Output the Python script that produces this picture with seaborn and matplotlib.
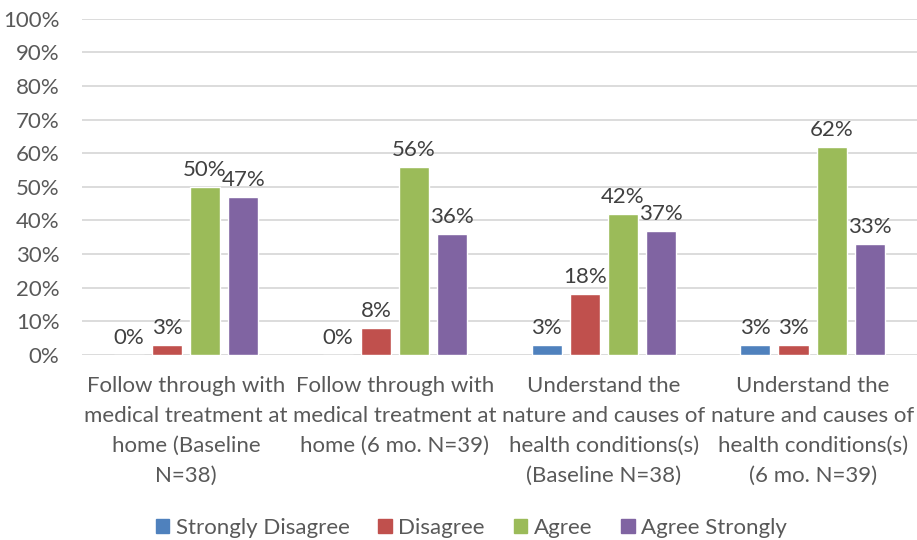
import matplotlib
matplotlib.use("Agg")
import matplotlib.pyplot as plt
import seaborn as sns
import pandas as pd

# data (percent)
categories = [
    "Follow through with\nmedical treatment at\nhome (Baseline\nN=38)",
    "Follow through with\nmedical treatment at\nhome (6 mo. N=39)",
    "Understand the\nnature and causes of\nhealth conditions(s)\n(Baseline N=38)",
    "Understand the\nnature and causes of\nhealth conditions(s)\n(6 mo. N=39)",
]
responses = ["Strongly Disagree", "Disagree", "Agree", "Agree Strongly"]
strongly_disagree = [0, 0, 3, 3]
disagree = [3, 8, 18, 3]
agree = [50, 56, 42, 62]
agree_strongly = [47, 36, 37, 33]
colors = ["#4F81BD", "#C0504D", "#9BBB59", "#8064A2"]

rows = []
for resp, vals in zip(responses, [strongly_disagree, disagree, agree, agree_strongly]):
    for cat, v in zip(categories, vals):
        rows.append({"category": cat, "response": resp, "value": v})
df = pd.DataFrame(rows)

sns.set_style("white")
plt.rcParams["font.family"] = ["Lato", "DejaVu Sans"]
text_color = "#595959"
fs = 16

fig = plt.figure(figsize=(9.17, 5.4), dpi=100)
ax = fig.add_axes([0.089, 0.343, 0.911, 0.622])

sns.barplot(data=df, x="category", y="value", hue="response",
            hue_order=responses, palette=colors, width=0.73, gap=0.21,
            saturation=1, ax=ax, zorder=3, legend=False)

for cont in ax.containers:
    ax.bar_label(cont, labels=[f"{v:.0f}%" for v in cont.datavalues],
                 padding=5, fontsize=fs, color="#404040")

ax.set_ylim(0, 100)
ax.set_yticks(range(0, 101, 10))
ax.set_yticklabels([f"{t}%" for t in range(0, 101, 10)])
ax.yaxis.grid(True, color="#d9d9d9", linewidth=1.3, zorder=0)
ax.set_axisbelow(True)
ax.set_xlim(-0.5, 3.5)
for s in ax.spines.values():
    s.set_visible(False)
ax.tick_params(axis="both", length=0, labelsize=fs, colors=text_color)
ax.tick_params(axis="y", pad=16)
ax.tick_params(axis="x", pad=15)
for lbl in ax.get_xticklabels():
    lbl.set_linespacing(1.62)
ax.set_xlabel("")
ax.set_ylabel("")

handles = [plt.Rectangle((0, 0), 1, 1, color=c) for c in colors]
fig.legend(handles, responses, loc="center", bbox_to_anchor=(0.514, 0.022),
           ncol=4, frameon=False, fontsize=fs, labelcolor=text_color,
           handlelength=0.6, handleheight=0.6, handletextpad=0.3,
           columnspacing=1.3)

fig.savefig("out.png", dpi=100)
